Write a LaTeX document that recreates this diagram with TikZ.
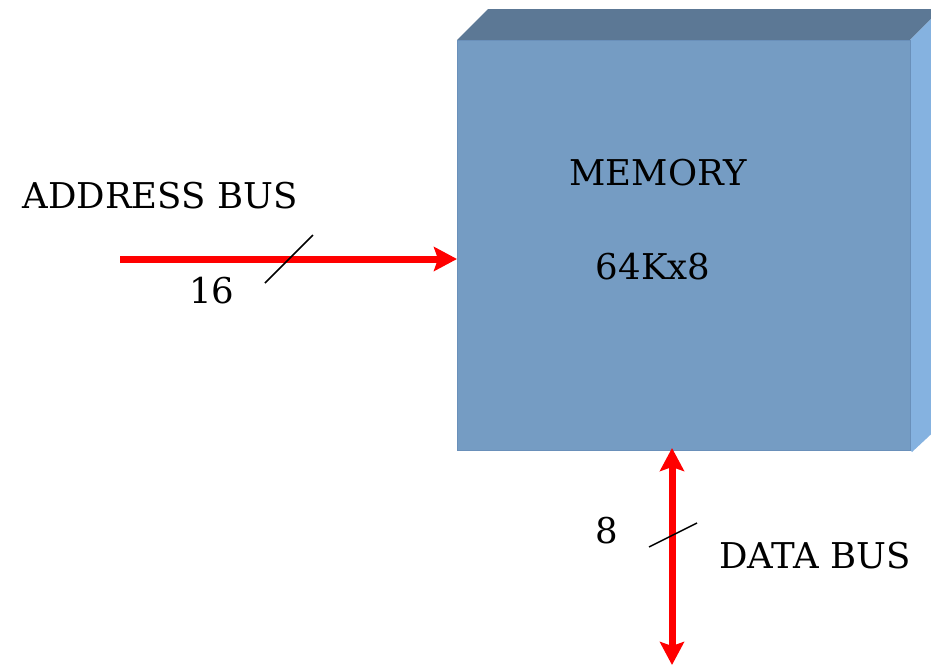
\documentclass[tikz,border=0pt]{standalone}
\usepackage{fontspec}
\setmainfont{DejaVu Serif}
\usetikzlibrary{arrows.meta}
\definecolor{frontblue}{HTML}{759CC3}
\definecolor{topblue}{HTML}{5C7895}
\definecolor{sideblue}{HTML}{85B2E0}
\definecolor{edgeblue}{HTML}{6A90BA}
\definecolor{busred}{HTML}{FF0000}
\tikzset{
  lbl/.style={font=\fontsize{35.5}{42}\selectfont, inner sep=0pt, anchor=base},
  bus/.style={draw=busred, line width=7pt},
  bustip/.tip={Stealth[length=23pt, width=24pt, inset=4pt]},
  slash/.style={draw=black, line width=1.5pt},
}
\begin{document}
\begin{tikzpicture}[x=1pt, y=-1pt]
\useasboundingbox (0,0) rectangle (931,665);

% 3D memory block: top and side faces behind the front face
\fill[topblue] (457,40) -- (488,9) -- (941,9) -- (910,40) -- cycle;
\fill[sideblue] (910,40) -- (941,9) -- (941,425) -- (912,452) -- (910,450) -- cycle;
\node[fill=frontblue, draw=edgeblue, line width=1pt, minimum width=453pt, minimum height=410pt,
      inner sep=0pt, outer sep=0pt] (mem) at (683.5,245) {};

% labels inside the block
\node[lbl] (memtitle) at (658,185) {MEMORY};
\node[lbl] (memsize) at (653,279) {64Kx8};

% address bus
\coordinate (abus) at (120,259);
\draw[bus, -bustip] (abus) -- (mem.west |- abus);
\coordinate (aslA) at (265,283);
\coordinate (aslB) at (313,235);
\draw[slash] (aslA) -- (aslB);
\node[lbl] (abuslbl) at (160,208) {ADDRESS BUS};
\node[lbl] (awidth) at (212,303) {16};

% data bus (bidirectional)
\coordinate (dbus) at (672,665);
\draw[bus, bustip-bustip] (dbus) -- ([yshift=2pt]dbus |- mem.south);
\coordinate (dslA) at (649,547);
\coordinate (dslB) at (697,523);
\draw[slash] (dslA) -- (dslB);
\node[lbl] (dbuslbl) at (815,568) {DATA BUS};
\node[lbl] (dwidth) at (607,543) {8};
\end{tikzpicture}
\end{document}
